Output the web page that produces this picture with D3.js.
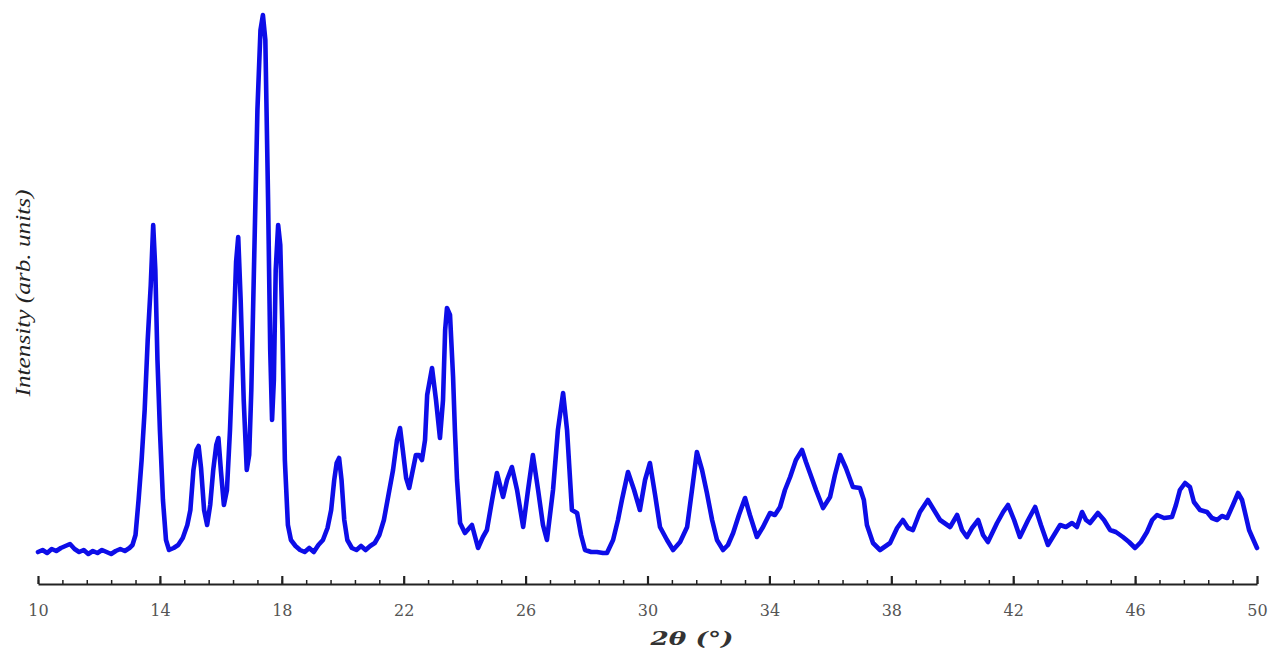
<!DOCTYPE html>
<html>
<head>
<meta charset="utf-8">
<script src="https://d3js.org/d3.v7.min.js"></script>
<style>
  body { margin: 0; background: #fff; }
  .line { fill: none; stroke: #0d0de8; stroke-width: 4.6; stroke-linejoin: round; stroke-linecap: round; }
  .axis path, .axis line { stroke: #222; }
  .axis text { font-family: "DejaVu Serif", serif; font-size: 16px; fill: #555; }
</style>
</head>
<body>
<div id="xrd"></div>
<script>
// 2theta (deg) and intensity (arb. units)
var twoTheta = [
  10.00,10.15,10.30,10.45,10.60,10.75,10.90,11.05,11.20,11.35,11.50,11.65,11.80,11.95,12.10,12.25,12.40,12.55,12.70,12.85,
  13.00,13.10,13.20,13.30,13.40,13.50,13.60,13.70,13.78,13.85,13.92,14.00,14.10,14.20,14.30,14.45,14.60,14.75,14.90,15.00,
  15.10,15.20,15.27,15.35,15.45,15.55,15.65,15.75,15.85,15.92,16.00,16.10,16.20,16.30,16.40,16.50,16.57,16.65,16.75,16.85,
  16.93,17.00,17.10,17.20,17.30,17.38,17.46,17.55,17.62,17.68,17.74,17.80,17.88,17.95,18.02,18.10,18.20,18.30,18.45,18.60,
  18.75,18.90,19.05,19.20,19.35,19.50,19.62,19.72,19.80,19.88,19.96,20.05,20.15,20.30,20.45,20.60,20.75,20.90,21.05,21.20,
  21.35,21.50,21.65,21.78,21.88,21.97,22.08,22.18,22.30,22.40,22.50,22.60,22.70,22.77,22.93,23.06,23.19,23.29,23.36,23.42,
  23.52,23.62,23.68,23.75,23.85,24.01,24.24,24.44,24.60,24.73,24.90,25.06,25.16,25.26,25.39,25.55,25.72,25.92,26.08,26.24,
  26.41,26.57,26.70,26.90,27.06,27.23,27.36,27.52,27.69,27.82,27.95,28.15,28.34,28.54,28.67,28.87,29.03,29.16,29.36,29.56,
  29.75,29.92,30.08,30.25,30.41,30.64,30.84,31.07,31.30,31.46,31.62,31.79,31.95,32.12,32.28,32.48,32.64,32.81,33.00,33.20,
  33.36,33.59,33.79,34.02,34.18,34.35,34.51,34.68,34.87,35.07,35.20,35.33,35.53,35.76,35.99,36.15,36.32,36.51,36.74,36.97,
  37.10,37.20,37.40,37.63,37.96,38.19,38.38,38.55,38.71,38.94,39.20,39.40,39.60,39.93,40.16,40.32,40.48,40.65,40.85,41.01,
  41.17,41.47,41.67,41.83,42.03,42.22,42.49,42.72,42.91,43.14,43.34,43.54,43.73,43.93,44.09,44.26,44.39,44.52,44.78,44.98,
  45.18,45.37,45.60,45.80,46.00,46.19,46.39,46.56,46.72,46.95,47.21,47.34,47.47,47.64,47.80,47.93,48.13,48.36,48.52,48.69,
  48.85,49.02,49.21,49.38,49.51,49.61,49.74,49.84,50.00
];
var intensity = [
  32,34,31,35,33,36,38,40,35,32,34,30,33,31,34,32,30,33,35,33,
  36,39,49,84,124,174,244,299,359,314,224,154,84,44,34,36,39,46,59,74,
  114,134,138,116,74,59,79,114,139,146,114,79,94,154,234,322,347,284,184,114,
  129,194,334,474,554,569,544,384,234,164,204,314,359,339,254,124,59,44,38,34,
  32,36,32,39,44,56,74,104,121,126,104,64,44,36,34,38,34,38,41,49,
  64,89,114,144,156,134,106,96,114,129,129,124,144,189,216,184,146,184,254,276,
  269,207,154,104,61,51,59,36,47,54,84,111,99,87,104,117,94,57,94,129,
  94,59,44,94,154,191,154,74,71,49,34,32,32,31,31,44,64,84,112,94,
  74,104,121,89,57,44,34,42,57,94,132,114,91,64,44,34,39,51,69,86,
  69,47,57,71,69,77,94,107,124,134,122,111,94,76,87,109,129,116,97,96,
  84,59,41,34,41,56,64,56,54,72,84,74,64,57,69,54,47,56,64,49,
  42,61,72,79,64,47,64,77,59,39,49,59,57,61,57,72,64,61,71,64,
  54,52,47,42,36,42,52,64,69,66,67,79,94,101,97,82,74,72,66,64,
  68,66,79,91,84,71,54,47,36
];
var majorTicks = [10, 14, 18, 22, 26, 30, 34, 38, 42, 46, 50];
var minorTicks = d3.range(0, 51).map(function(i) { return +(10 + i * 0.8).toFixed(1); });

var data = twoTheta.map(function(t, i) { return {t: t, v: intensity[i]}; });

var width = 1269, height = 652;

var x = d3.scaleLinear().domain([10, 50]).range([38, 1257]);
var y = d3.scaleLinear().domain([0, 569]).range([584, 15]);

var svg = d3.select("#xrd")
    .append("svg")
    .attr("width", width)
    .attr("height", height);

var pathline = d3.line()
    .x(function(d) { return x(d.t); })
    .y(function(d) { return y(d.v); });

svg.append("path")
    .attr("class", "line")
    .attr("d", pathline(data));

// minor ticks (pointing up)
svg.append("g")
    .attr("class", "axis")
    .attr("transform", "translate(0,584)")
    .call(d3.axisBottom(x).tickValues(minorTicks).tickSizeInner(-4).tickSizeOuter(0).tickFormat(""))
    .call(function(g) { g.select(".domain").remove(); })
    .selectAll("line").attr("stroke-width", 1.5);

// major ticks + labels
var ax = svg.append("g")
    .attr("class", "axis")
    .attr("transform", "translate(0,584)")
    .call(d3.axisBottom(x).tickValues(majorTicks).tickSizeInner(-8).tickSizeOuter(0).tickPadding(21).tickFormat(d3.format("d")));
ax.select(".domain").attr("stroke-width", 1.8);
ax.selectAll("line").attr("stroke-width", 2.2);

// axis titles
svg.append("text")
    .attr("x", 692)
    .attr("y", 645)
    .attr("text-anchor", "middle")
    .attr("textLength", 83)
    .attr("lengthAdjust", "spacingAndGlyphs")
    .style("font-family", "'DejaVu Serif', serif")
    .style("font-style", "italic")
    .style("font-weight", "bold")
    .style("font-size", "19px")
    .style("fill", "#333")
    .text("2θ (°)");

svg.append("text")
    .attr("transform", "translate(30,293) rotate(-90)")
    .attr("text-anchor", "middle")
    .attr("textLength", 207)
    .attr("lengthAdjust", "spacingAndGlyphs")
    .style("font-family", "'Liberation Serif', serif")
    .style("font-style", "italic")
    .style("font-size", "22px")
    .style("fill", "#222")
    .text("Intensity (arb. units)");
</script>
</body>
</html>
